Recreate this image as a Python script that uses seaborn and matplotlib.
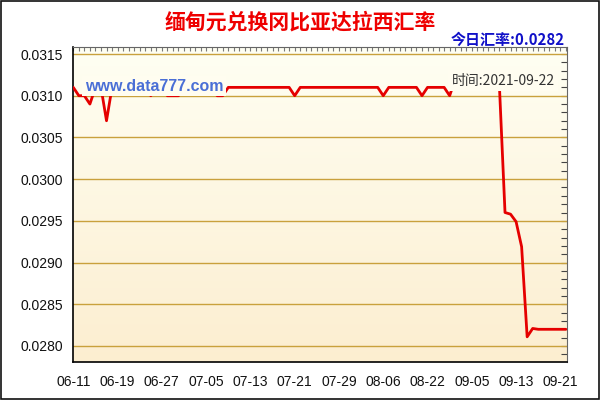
import numpy as np
import pandas as pd
import matplotlib
matplotlib.use("Agg")
import matplotlib.pyplot as plt
import seaborn as sns
from matplotlib.ticker import FixedLocator, MultipleLocator, NullFormatter
from matplotlib.patches import Rectangle

# Datos: tipo de cambio diario (90 observaciones)
rates = [
    0.03110, 0.03100, 0.03100, 0.03090, 0.03110, 0.03110, 0.03070, 0.03110,
    0.03110, 0.03110, 0.03110, 0.03110, 0.03110, 0.03110, 0.03100, 0.03110,
    0.03110, 0.03100, 0.03100, 0.03100, 0.03110, 0.03110, 0.03110, 0.03110,
    0.03110, 0.03110, 0.03100, 0.03100, 0.03110, 0.03110, 0.03110, 0.03110,
    0.03110, 0.03110, 0.03110, 0.03110, 0.03110, 0.03110, 0.03110, 0.03110,
    0.03100, 0.03110, 0.03110, 0.03110, 0.03110, 0.03110, 0.03110, 0.03110,
    0.03110, 0.03110, 0.03110, 0.03110, 0.03110, 0.03110, 0.03110, 0.03110,
    0.03100, 0.03110, 0.03110, 0.03110, 0.03110, 0.03110, 0.03110, 0.03100,
    0.03110, 0.03110, 0.03110, 0.03110, 0.03100, 0.03120, 0.03110, 0.03110,
    0.03110, 0.03110, 0.03110, 0.03110, 0.03110, 0.03110, 0.02960, 0.02958,
    0.02949, 0.02919, 0.02811, 0.02821, 0.02820, 0.02820, 0.02820, 0.02820,
    0.02820, 0.02820,
]
x_labels = ['06-11', '06-19', '06-27', '07-05', '07-13', '07-21',
            '07-29', '08-06', '08-22', '09-05', '09-13', '09-21']
y_ticks = [0.0280, 0.0285, 0.0290, 0.0295, 0.0300, 0.0305, 0.0310, 0.0315]

title = '缅甸元兑换冈比亚达拉西汇率'
today_text = '今日汇率:0.0282'
time_text = '时间:2021-09-22'
watermark = 'www.data777.com'

df = pd.DataFrame({'idx': np.arange(len(rates)), 'rate': rates})

sns.set_style('white')
plt.rcParams['font.family'] = ['Liberation Sans', 'Noto Sans CJK SC', 'DejaVu Sans']

fig = plt.figure(figsize=(6, 4), dpi=100)
ax = fig.add_axes([0.1217, 0.095, 0.8233, 0.7875])

# Fondo degradado del área de trazado
grad = np.linspace(0, 1, 256).reshape(-1, 1)
c_top = np.array([255, 255, 243]) / 255
c_bot = np.array([252, 238, 208]) / 255
img = c_top + (c_bot - c_top) * grad[:, :, None] * np.ones((1, 1, 3))
ax.imshow(img, extent=[0, 1, 0, 1], transform=ax.transAxes, aspect='auto', zorder=0)

for yv in y_ticks:
    ax.axhline(yv, color='#c9a13c', lw=1, zorder=1)

sns.lineplot(data=df, x='idx', y='rate', ax=ax, color='#e50000', lw=2, zorder=3)

ax.set_xlim(-0.05, 89.2)
ax.set_ylim(0.027808, 0.031584)
ax.set_xlabel('')
ax.set_ylabel('')

step = 8
ax.xaxis.set_major_locator(FixedLocator(np.arange(0, len(rates), 4)))
ax.set_xticklabels([x_labels[i // step] if i % step == 0 and i // step < len(x_labels) else ''
                    for i in range(0, len(rates), 4)])
ax.xaxis.set_minor_locator(MultipleLocator(1))
ax.set_yticks(y_ticks)
ax.set_yticklabels([f'{v:.4f}' for v in y_ticks])
ax.yaxis.set_minor_locator(MultipleLocator(0.0001))

ax.tick_params(axis='both', which='major', labelsize=10, colors='#111111', direction='inout', length=8, width=1)
ax.tick_params(axis='both', which='minor', direction='inout', length=5, width=1, colors='#111111')
ax.tick_params(axis='x', which='both', pad=5)
ax.tick_params(axis='y', which='both', pad=3)

for side in ['left', 'bottom']:
    ax.spines[side].set_color('#000000')
    ax.spines[side].set_linewidth(1.2)
for side in ['top', 'right']:
    ax.spines[side].set_color('#666666')
    ax.spines[side].set_linewidth(0.8)

# Marcas pequeñas hacia dentro arriba y a la derecha
top = ax.secondary_xaxis('top')
top.xaxis.set_major_locator(MultipleLocator(1))
top.xaxis.set_major_formatter(NullFormatter())
top.tick_params(direction='in', length=3, width=0.8, colors='#777777')
top.spines['top'].set_visible(False)
right = ax.secondary_yaxis('right')
right.yaxis.set_major_locator(MultipleLocator(0.0001))
right.yaxis.set_major_formatter(NullFormatter())
right.tick_params(direction='in', length=4, width=0.8, colors='#444444')
right.spines['right'].set_visible(False)

# Textos dentro del gráfico (tapan la línea, como en el original)
ax.text(0.024, 0.876, watermark, transform=ax.transAxes, fontsize=11.5, fontweight='bold',
        color='#4a6fd6', va='center', ha='left', zorder=5,
        bbox=dict(facecolor='#fffdf0', edgecolor='none', pad=2.0))
ax.text(0.766, 0.893, time_text, transform=ax.transAxes, fontsize=10,
        color='#333333', va='center', ha='left', zorder=5,
        family=['Noto Sans CJK SC', 'DejaVu Sans'],
        bbox=dict(facecolor='#fffdf0', edgecolor='none', pad=2.5))

fig.text(0.5, 0.945, title, ha='center', va='center', fontsize=15, fontweight='bold',
         color='#ee0000', family=['Noto Sans CJK SC', 'DejaVu Sans'])
fig.text(0.942, 0.9, today_text, ha='right', va='center', fontsize=10.8, fontweight='bold',
         color='#1010c8', family=['Noto Sans CJK SC', 'DejaVu Sans'])

fig.patches.append(Rectangle((0.002, 0.003), 0.996, 0.994, transform=fig.transFigure,
                             fill=False, edgecolor='#111111', lw=1.2))

fig.savefig('out.png', dpi=100)
